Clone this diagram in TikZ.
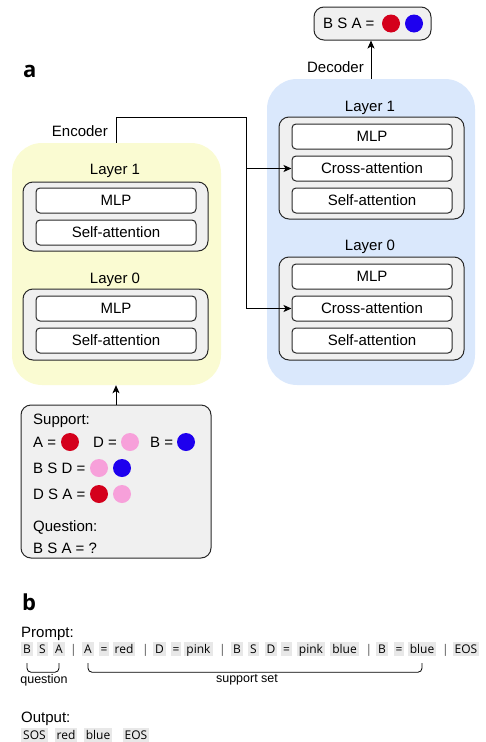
\documentclass[tikz,border=0pt]{standalone}
\usepackage{fontspec}
\setmainfont{Liberation Sans}
\newfontfamily\tokfont{Open Sans}
\usetikzlibrary{arrows.meta,calc}
\definecolor{decblue}{HTML}{DAE8FC}
\definecolor{encyellow}{RGB}{250,251,210}
\definecolor{boxgray}{RGB}{240,240,240}
\definecolor{edge}{RGB}{40,40,40}
\definecolor{tokgray}{RGB}{232,232,232}
\definecolor{cred}{RGB}{212,0,28}
\definecolor{cpink}{RGB}{247,160,218}
\definecolor{cblue}{RGB}{30,0,238}
\tikzset{
  region/.style={rounded corners=30pt, draw=none, inner sep=0},
  layerbox/.style={rounded corners=10pt, draw=edge, fill=boxgray, line width=1pt, inner sep=0},
  sub/.style={rounded corners=4pt, draw=edge, fill=white, line width=1pt, minimum width=160pt, minimum height=25pt, inner sep=0, font=\fontsize{15}{18}\selectfont},
  infobox/.style={rounded corners=10pt, draw=edge, fill=boxgray, line width=1pt, inner sep=0},
  lbl/.style={inner sep=0, text height=10.7pt, text depth=0pt, font=\fontsize{15}{18}\selectfont},
  smalllbl/.style={inner sep=0, font=\fontsize{12.5}{15}\selectfont},
  panel/.style={inner sep=0, font=\tokfont\bfseries\fontsize{22}{26}\selectfont},
  dot/.style={circle, minimum size=18pt, inner sep=0, draw=none},
  arr/.style={-{Stealth[length=8pt,width=7pt,inset=2pt]}, line width=1pt, draw=black},
  tok/.style={fill=tokgray, inner xsep=2pt, inner ysep=0pt, text height=8.6pt, text depth=0pt, minimum height=14pt, font=\tokfont\fontsize{12}{14}\selectfont},
  sepbar/.style={inner xsep=1pt, inner ysep=0pt, text height=8.6pt, text depth=0pt, minimum height=14pt, text=black!70, font=\tokfont\fontsize{12}{14}\selectfont},
  brace/.style={rounded corners=4pt, line width=0.8pt}
}
\begin{document}
\begin{tikzpicture}[x=1pt,y=-1pt]
\useasboundingbox (0,0) rectangle (486,742);

% ---------- panel a ----------
\node[panel, anchor=base west] (pa) at (23,77) {a};

% output box
\node[infobox, minimum width=117pt, minimum height=33pt] (out) at (372.5,23.5) {};
\node[lbl, anchor=west] (outtxt) at (323,23.5) {B S A =};
\node[dot, fill=cred] (o1) at (391,23.5) {};
\node[dot, fill=cblue] (o2) at (414,23.5) {};

% regions
\node[region, fill=decblue, minimum width=208pt, minimum height=306pt] (dec) at (371,232) {};
\node[region, fill=encyellow, minimum width=209pt, minimum height=242pt] (enc) at (116.5,264) {};

% decoder
\node[lbl, anchor=east] (declbl) at (364,67) {Decoder};
\node[lbl] (dl1) at (370,106) {Layer 1};
\node[layerbox, minimum width=185pt, minimum height=102pt] (d1) at (371.5,168) {};
\node[sub] (dm1) at (372,136.5) {MLP};
\node[sub] (dc1) at (372,168.5) {Cross-attention};
\node[sub] (ds1) at (372,200.5) {Self-attention};
\node[lbl] (dl0) at (370,245) {Layer 0};
\node[layerbox, minimum width=185pt, minimum height=103pt] (d0) at (371.5,308.5) {};
\node[sub] (dm0) at (372,276.5) {MLP};
\node[sub] (dc0) at (372,308.5) {Cross-attention};
\node[sub] (ds0) at (372,340.5) {Self-attention};

% encoder
\node[lbl, anchor=east] (enclbl) at (108,131) {Encoder};
\node[lbl] (el1) at (115,169) {Layer 1};
\node[layerbox, minimum width=185pt, minimum height=69pt] (e1) at (115.5,216.5) {};
\node[sub] (em1) at (116,200.5) {MLP};
\node[sub] (es1) at (116,232.5) {Self-attention};
\node[lbl] (el0) at (115,278) {Layer 0};
\node[layerbox, minimum width=185pt, minimum height=71pt] (e0) at (115.5,324.5) {};
\node[sub] (em0) at (116,308.5) {MLP};
\node[sub] (es0) at (116,340.5) {Self-attention};

% support box
\node[infobox, minimum width=190pt, minimum height=153pt] (sup) at (116,481.5) {};
\node[lbl, anchor=west] (s0) at (33,419) {Support:};
\node[lbl, anchor=west] (s1a) at (33,442) {A =};
\node[dot, fill=cred] (s1ac) at (70,442) {};
\node[lbl, anchor=west] (s1d) at (93,442) {D =};
\node[dot, fill=cpink] (s1dc) at (130,442) {};
\node[lbl, anchor=west] (s1b) at (150,442) {B =};
\node[dot, fill=cblue] (s1bc) at (186,442) {};
\node[lbl, anchor=west] (s2) at (33,468) {B S D =};
\node[dot, fill=cpink] (s2c1) at (99,468) {};
\node[dot, fill=cblue] (s2c2) at (122,468) {};
\node[lbl, anchor=west] (s3) at (33,494) {D S A =};
\node[dot, fill=cred] (s3c1) at (99,494) {};
\node[dot, fill=cpink] (s3c2) at (122,494) {};
\node[lbl, anchor=west] (q0) at (33,526) {Question:};
\node[lbl, anchor=west] (q1) at (33,548) {B S A = ?};

% connectors
\draw[arr] (dec.north) -- (dec.north |- out.south);
\coordinate (bus) at (246,117);
\draw[arr] (enc.north) |- (bus) |- (dc0.west);
\draw[arr] (bus |- dc1.west) -- (dc1.west);
\draw[arr] (sup.north) -- (sup.north |- enc.south);

% ---------- panel b ----------
\node[panel, anchor=base west] (pb) at (22,610) {b};
\node[lbl, anchor=west] (prompt) at (21,632) {Prompt:};

\node[tok] (t1) at (27,649) {B};
\node[tok] (t2) at (42.5,649) {S};
\node[tok] (t3) at (59,649) {A};
\node[sepbar] (b1) at (73.5,649) {|};
\node[tok] (t4) at (88,649) {A};
\node[tok] (t5) at (104,649) {=};
\node[tok] (t6) at (124,649) {red};
\node[sepbar] (b2) at (145.5,649) {|};
\node[tok] (t7) at (159.5,649) {D};
\node[tok] (t8) at (176,649) {=};
\node[tok] (t9) at (198.5,649) {pink};
\node[sepbar] (b3) at (222.5,649) {|};
\node[tok] (t10) at (237,649) {B};
\node[tok] (t11) at (253.5,649) {S};
\node[tok] (t12) at (271,649) {D};
\node[tok] (t13) at (286.5,649) {=};
\node[tok] (t14) at (311,649) {pink};
\node[tok] (t15) at (344.5,649) {blue};
\node[sepbar] (b4) at (369,649) {|};
\node[tok] (t16) at (382,649) {B};
\node[tok] (t17) at (399,649) {=};
\node[tok] (t18) at (422,649) {blue};
\node[sepbar] (b5) at (445.5,649) {|};
\node[tok] (t19) at (466,649) {EOS};

\draw[brace] ($(t1.south)+(0,7)$) |- ($(t3.south)+(0,16)$) -- ($(t3.south)+(0,7)$);
\draw[brace] ($(t4.south)+(0,7)$) |- ($(t18.south)+(0,16)$) -- ($(t18.south)+(0,7)$);
\node[smalllbl] (ql) at (44,680) {question};
\node[smalllbl] (sl) at (247,680) {support set};

\node[lbl, anchor=west] (output) at (21,717) {Output:};
\node[tok] (u1) at (34.5,735) {SOS};
\node[tok] (u2) at (66,735) {red};
\node[tok] (u3) at (98,735) {blue};
\node[tok] (u4) at (136,735) {EOS};
\end{tikzpicture}
\end{document}
